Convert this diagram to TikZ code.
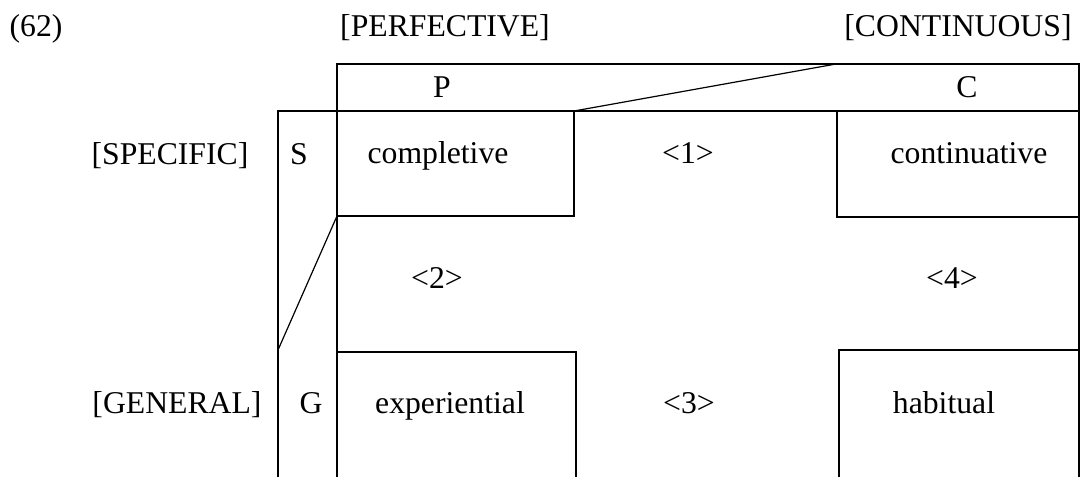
\documentclass[tikz,border=0pt]{standalone}
\usepackage{fontspec}
\setmainfont{Liberation Serif}
\begin{document}
\begin{tikzpicture}[x=1pt,y=-1pt,line width=1.2pt,
  lbl/.style={font=\fontsize{31.7}{36}\selectfont,inner sep=0pt,anchor=base}]
\useasboundingbox (0,0) rectangle (1083,477);
% frame coordinates
\coordinate (topL) at (337,64);
\coordinate (topR) at (1079,64);
\coordinate (slantTop) at (836,64);
\coordinate (midL) at (278,111);
\coordinate (midR) at (1079,111);
\coordinate (compTR) at (574,111);
\coordinate (compBR) at (574,216);
\coordinate (compBL) at (337,216);
\coordinate (contTL) at (837,111);
\coordinate (contBL) at (837,217);
\coordinate (contBR) at (1079,217);
\coordinate (expTL) at (337,352);
\coordinate (expTR) at (576,352);
\coordinate (expBR) at (576,477);
\coordinate (habTL) at (839,350);
\coordinate (habTR) at (1079,350);
\coordinate (habBL) at (839,477);
\coordinate (botP) at (337,477);
\coordinate (botS) at (278,477);
\coordinate (botR) at (1079,477);
\coordinate (gTop) at (278,350);
% lines
\draw (botP) -- (topL) -- (topR) -- (botR);
\draw (botS) -- (midL) -- (midR);
\draw (compBL) -- (compBR) -- (compTR);
\draw (contTL) -- (contBL) -- (contBR);
\draw (expTL) -- (expTR) -- (expBR);
\draw (habBL) -- (habTL) -- (habTR);
\draw (compTR) -- (slantTop);
\draw (gTop) -- (compBL);
% labels
\node[lbl] (ex) at (36,36) {(62)};
\node[lbl] (perf) at (445,36) {[PERFECTIVE]};
\node[lbl] (cont) at (958,36) {[CONTINUOUS]};
\node[lbl] (P) at (442,97) {P};
\node[lbl] (C) at (967,97) {C};
\node[lbl] (spec) at (170,164) {[SPECIFIC]};
\node[lbl] (S) at (299,164) {S};
\node[lbl] (compl) at (438,163) {completive};
\node[lbl] (one) at (688,163) {<1>};
\node[lbl] (contin) at (969,163) {continuative};
\node[lbl] (two) at (437,288) {<2>};
\node[lbl] (four) at (952,288) {<4>};
\node[lbl] (gen) at (177,413) {[GENERAL]};
\node[lbl] (G) at (311,413) {G};
\node[lbl] (exper) at (450,413) {experiential};
\node[lbl] (three) at (689,413) {<3>};
\node[lbl] (hab) at (944,413) {habitual};
\end{tikzpicture}
\end{document}
